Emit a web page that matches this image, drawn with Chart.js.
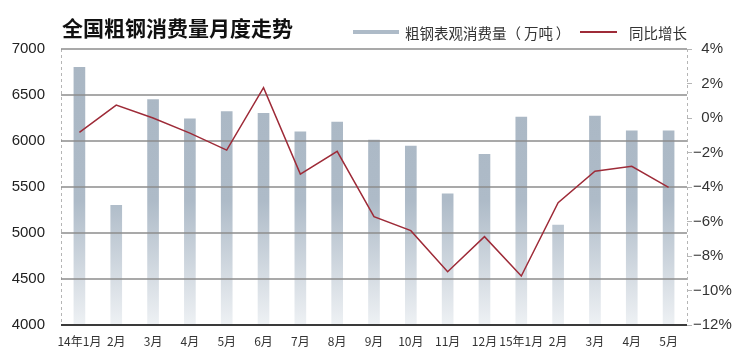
<!DOCTYPE html>
<html>
<head>
<meta charset="utf-8">
<script src="https://cdn.jsdelivr.net/npm/chart.js@4"></script>
<style>
  body { margin: 0; background: #fff; }
  #wrap { position: relative; width: 750px; height: 359px; }
  .txt { position: absolute; font-family: "Noto Sans CJK SC", sans-serif; white-space: nowrap; }
  #title { left: 62px; top: 17px; font-size: 21px; line-height: 21px; font-weight: 700; color: #111; }
  .leg { top: 24px; font-size: 14.5px; line-height: 17px; color: #333; }
</style>
</head>
<body>
<div id="wrap">
  <canvas id="chart"></canvas>
  <div class="txt" id="title">全国粗钢消费量月度走势</div>
  <div style="position:absolute;left:353px;top:30px;width:46px;height:4px;background:#aebbc8"></div>
  <div class="txt leg" style="left:405px">粗钢表观消费量（&thinsp;万吨&thinsp;）</div>
  <div style="position:absolute;left:580px;top:31px;width:37px;height:1.5px;background:#9e2b38"></div>
  <div class="txt leg" style="left:629px">同比增长</div>
</div>
<script>
// months
const months = ["14年1月", "2月", "3月", "4月", "5月", "6月", "7月", "8月", "9月",
  "10月", "11月", "12月", "15年1月", "2月", "3月", "4月", "5月"];
// apparent steel consumption (10k tonnes)
const consumption = [6800, 5300, 6450, 6240, 6320, 6300, 6100, 6205, 6010,
  5945, 5425, 5855, 6260, 5085, 6270, 6110, 6110];
// year-on-year growth (%)
const yoyGrowth = [-0.83, 0.75, 0.0, -0.88, -1.86, 1.76, -3.25, -1.93, -5.72,
  -6.53, -8.91, -6.88, -9.16, -4.91, -3.09, -2.8, -4.02];
// left axis ticks
const leftTicks = [4000, 4500, 5000, 5500, 6000, 6500, 7000];

// dashed side borders + gridlines drawn over the bars, under the line
const gridOverBars = {
  id: "gridOverBars",
  beforeDatasetsDraw(chart) {
    const { ctx, chartArea: a } = chart;
    ctx.save();
    ctx.strokeStyle = "#b5b5b5";
    ctx.lineWidth = 1;
    ctx.setLineDash([3, 3]);
    [a.left, a.right].forEach((x) => {
      ctx.beginPath();
      ctx.moveTo(Math.round(x) + 0.5, a.top);
      ctx.lineTo(Math.round(x) + 0.5, a.bottom);
      ctx.stroke();
    });
    ctx.restore();
  },
  afterDatasetDraw(chart, args) {
    if (args.index !== 1) return;
    const { ctx, chartArea: a, scales } = chart;
    ctx.save();
    leftTicks.forEach((v) => {
      const y = scales.y.getPixelForValue(v);
      const base = v === 4000;
      ctx.strokeStyle = base ? "#3a3a3a" : "#8c8c8c";
      ctx.lineWidth = base ? 2 : 1.5;
      ctx.beginPath();
      ctx.moveTo(a.left, y);
      ctx.lineTo(a.right, y);
      ctx.stroke();
    });
    ctx.restore();
  },
};

const ctx = document.getElementById("chart").getContext("2d");
new Chart(ctx, {
  type: "bar",
  data: {
    labels: months,
    datasets: [
      {
        type: "line",
        label: "同比增长",
        data: yoyGrowth,
        yAxisID: "y1",
        borderColor: "#9e2b38",
        borderWidth: 1.5,
        pointRadius: 0,
        tension: 0,
        order: 0,
      },
      {
        label: "粗钢表观消费量（万吨）",
        data: consumption,
        yAxisID: "y",
        barThickness: 11,
        order: 1,
        backgroundColor: (c) => {
          const a = c.chart.chartArea;
          if (!a) return "#aab7c4";
          const g = c.chart.ctx.createLinearGradient(0, a.top, 0, a.bottom);
          g.addColorStop(0, "#a9b6c3");
          g.addColorStop(0.55, "#aebbc8");
          g.addColorStop(1, "#eef1f4");
          return g;
        },
      },
    ],
  },
  options: {
    responsive: true,
    maintainAspectRatio: false,
    animation: false,
    layout: { padding: { top: 49, left: 0, right: 0, bottom: 0 } },
    plugins: { legend: { display: false }, tooltip: { enabled: false } },
    scales: {
      x: {
        grid: { display: false },
        border: { display: false },
        ticks: {
          color: "#333",
          font: { family: "Noto Sans CJK SC", size: 12 },
          padding: 1,
          maxRotation: 0,
          autoSkip: false,
        },
        afterFit: (s) => { s.height = 34; },
      },
      y: {
        position: "left",
        min: 4000,
        max: 7000,
        ticks: {
          stepSize: 500,
          color: "#222",
          font: { family: "Liberation Sans", size: 15 },
          padding: 8,
          callback: (v) => String(v),
        },
        grid: { display: false },
        border: { display: false },
        afterFit: (s) => { s.width = 61; },
      },
      y1: {
        position: "right",
        min: -12,
        max: 4,
        ticks: {
          stepSize: 2,
          color: "#333",
          font: { family: "Liberation Sans", size: 15 },
          padding: 1,
          callback: (v) => (v < 0 ? "\u2212" + Math.abs(v) + "%" : "  " + v + "%"),
        },
        grid: { drawOnChartArea: false, tickLength: 5, color: "#b5b5b5", lineWidth: 1 },
        border: { display: false },
        afterFit: (s) => { s.width = 63; },
      },
    },
  },
  plugins: [gridOverBars],
});
</script>
</body>
</html>
